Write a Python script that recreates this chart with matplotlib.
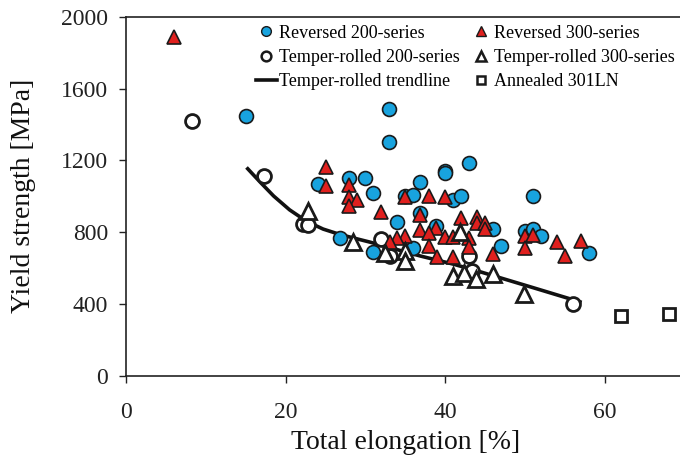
from matplotlib import pyplot as plt
from matplotlib.lines import Line2D

# Reversed 200-series (blue circles)
rev200_x = [15, 33, 33, 24, 28, 30, 31, 35, 36, 36.8, 40, 40, 43, 41, 42, 51,
            36.8, 33.9, 38.9, 46, 26.8, 31, 36, 47, 50, 51, 52, 58]
rev200_y = [1450, 1485, 1300, 1070, 1105, 1102, 1018, 1003, 1007, 1078, 1142, 1130, 1185, 981, 1003, 1000,
            905, 860, 836, 818, 770, 690, 712, 725, 809, 818, 777, 683]

# Reversed 300-series (red triangles)
rev300_x = [6, 25, 25, 28, 28, 29, 28, 32, 35, 38, 40, 36.8, 42, 44, 44, 45, 45,
            38.9, 36.9, 38, 35, 34, 33.1, 40, 41, 43, 43, 38, 46, 50, 51, 50,
            54, 57, 55, 39, 41]
rev300_y = [1885, 1161, 1055, 1063, 998, 981, 948, 912, 998, 1000, 994, 895, 879, 883, 850, 850, 818,
            826, 812, 796, 777, 768, 744, 775, 772, 768, 718, 722, 677, 777, 785, 711,
            747, 750, 666, 660, 660]

# Temper-rolled 200-series (open circles)
tr200_x = [8.3, 17.3, 22.2, 22.8, 32, 33.1, 43, 43.3, 56]
tr200_y = [1420, 1115, 846, 842, 764, 670, 668, 586, 401]

# Temper-rolled 300-series (open triangles)
tr300_x = [22.85, 28.5, 32.5, 35, 35, 41.9, 41, 42.3, 43.8, 46, 49.9]
tr300_y = [918, 744, 687, 694, 642, 800, 558, 573, 540, 568, 456]

# Annealed 301LN (open squares)
ann_x = [62, 68]
ann_y = [332, 344]

# Temper-rolled trendline
trend_x = [15.1, 16.8, 18.5, 20.5, 22.6, 24.7, 26.8, 28.9, 30.6, 36.8, 41, 44.4, 46.5, 51, 57.1]
trend_y = [1161, 1080, 1002, 925, 862, 818, 788, 764, 745, 669, 623, 580, 552, 492, 410]

x_ticks = [0, 20, 40, 60]
y_ticks = [0, 400, 800, 1200, 1600, 2000]

BLUE = "#18a3de"
RED = "#e0201e"
EDGE = "#1a1a1a"

plt.rcParams['font.family'] = ['Liberation Serif', 'DejaVu Serif']

fig = plt.figure(figsize=(6.8, 4.62), dpi=100)
ax = fig.add_axes([0.1853, 0.1861, 0.8215, 0.7777])

# trendline first so markers sit on top
ax.plot(trend_x, trend_y, color="#111111", lw=2.6, zorder=2,
        solid_capstyle='butt', solid_joinstyle='round')

ms = 10
ax.plot(rev200_x, rev200_y, 'o', ms=ms, mfc=BLUE, mec=EDGE, mew=1.2, zorder=3)
ax.plot(rev300_x, rev300_y, '^', ms=ms, mfc=RED, mec=EDGE, mew=1.2, zorder=4)
ax.plot(tr200_x, tr200_y, 'o', ms=ms, mfc="white", mec=EDGE, mew=2.0, zorder=3)
ax.plot(tr300_x, tr300_y, '^', ms=ms + 1, mfc="white", mec=EDGE, mew=2.0, zorder=4)
ax.plot(ann_x, ann_y, 's', ms=ms - 1, mfc="white", mec=EDGE, mew=2.0, zorder=3)

ax.set_xlim(0, 70)
ax.set_ylim(0, 2000)
ax.set_xticks(x_ticks)
ax.set_yticks(y_ticks)
ax.tick_params(direction='out', length=5, width=1, colors="#222222",
               labelsize=17)
ax.tick_params(axis='x', pad=14)
ax.tick_params(axis='y', pad=8)
for sp in ax.spines.values():
    sp.set_linewidth(1.2)
    sp.set_color("#222222")

ax.set_xlabel("Total elongation [%]", fontsize=20, labelpad=5, color="#111111")
ax.set_ylabel("Yield strength [MPa]", fontsize=20, labelpad=18, color="#111111")

# legend: two columns, filled column by column
lms = 7
handles = [
    Line2D([], [], ls='none', marker='o', ms=lms, mfc=BLUE, mec=EDGE, mew=1.0),
    Line2D([], [], ls='none', marker='o', ms=lms, mfc="white", mec=EDGE, mew=1.8),
    Line2D([], [], color="#111111", lw=2.6),
    Line2D([], [], ls='none', marker='^', ms=lms, mfc=RED, mec=EDGE, mew=1.0),
    Line2D([], [], ls='none', marker='^', ms=lms, mfc="white", mec=EDGE, mew=1.8),
    Line2D([], [], ls='none', marker='s', ms=lms - 1, mfc="white", mec=EDGE, mew=1.8),
]
labels = ["Reversed 200-series", "Temper-rolled 200-series", "Temper-rolled trendline",
          "Reversed 300-series", "Temper-rolled 300-series", "Annealed 301LN"]
ax.legend(handles, labels, ncol=2, frameon=False, fontsize=13,
          loc='upper left', bbox_to_anchor=(0.2327, 0.978),
          handlelength=1.15, handletextpad=0.12, columnspacing=0.63,
          labelspacing=0.4, borderaxespad=0, borderpad=0)

fig.savefig("out.png", dpi=100)
